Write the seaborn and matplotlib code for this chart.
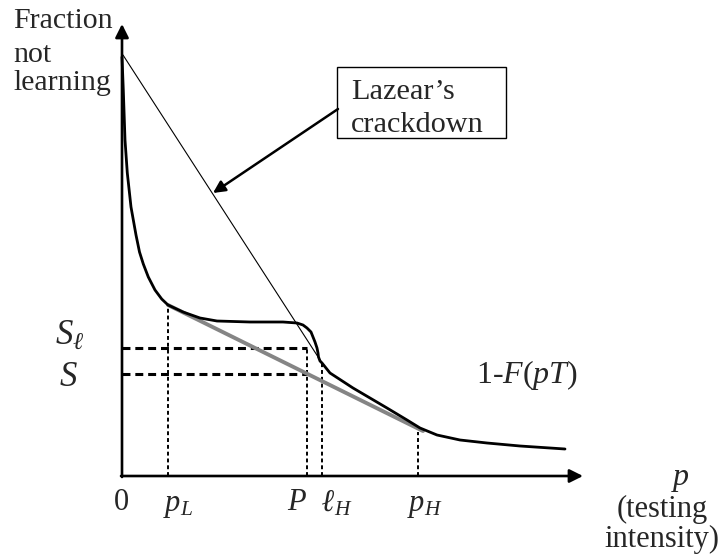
import matplotlib
matplotlib.use("Agg")
import matplotlib.pyplot as plt
from matplotlib.patches import Rectangle
import seaborn as sns

# chart units: origin at the axes corner (p = 0, fraction = 0)
curve_p = [0, 1.3, 3, 5.3, 9, 14, 17.5, 21.3, 26.3, 33, 39.7, 46, 61, 78, 95,
           128, 161, 175, 181, 185, 189, 191, 193, 195, 196, 196.5, 198, 200,
           208, 231, 265, 285, 298, 315, 338, 365, 398, 443]
curve_frac = [419, 386, 336, 303, 269, 241, 224, 212, 199, 186, 177, 171, 164,
              158, 155, 154, 154, 153, 151, 148, 144, 139, 134, 128, 123, 119,
              115, 113, 103, 88, 68, 56, 48, 41, 36, 33, 30, 27]

crackdown_p = [1, 200]
crackdown_frac = [421, 113]

tangent_p = [46, 301]
tangent_frac = [171, 45]

# marked testing intensities and the curve height above each
mark_names = ["p_L", "P", "l_H", "p_H"]
mark_p = [46, 185, 200, 296]
mark_top = [171, 128, 113, 44]

S_ell = 128
S = 102

sns.set_style("white")
plt.rcParams["font.family"] = ["Liberation Serif", "DejaVu Serif"]
plt.rcParams["mathtext.fontset"] = "custom"
plt.rcParams["mathtext.rm"] = "Liberation Serif"
plt.rcParams["mathtext.it"] = "Liberation Serif:italic"
plt.rcParams["mathtext.bf"] = "Liberation Serif:italic:bold"

fig = plt.figure(figsize=(7.25, 5.54), dpi=100)
ax = fig.add_axes([0, 0, 1, 1])
ax.set_xlim(-122, 603)
ax.set_ylim(-78, 476)
ax.axis("off")

# axes with arrow heads
arrow = dict(arrowstyle="-|>", lw=1.9, color="black", mutation_scale=20,
             shrinkA=0, shrinkB=0)
ax.annotate("", xy=(0, 452), xytext=(0, -1), arrowprops=arrow)
ax.annotate("", xy=(461, 0), xytext=(-1, 0), arrowprops=arrow)

# dashed guides
ax.plot([0, mark_p[1]], [S_ell, S_ell], color="black", lw=2.2,
        linestyle=(0, (2.6, 1.6)))
ax.plot([0, mark_p[1]], [S, S], color="black", lw=2.2,
        linestyle=(0, (2.6, 1.6)))
for xp, top in zip(mark_p, mark_top):
    ax.plot([xp, xp], [0, top], color="black", lw=1.4,
            linestyle=(0, (2.0, 1.5)))

# thin crackdown line, grey tangent, main curve
sns.lineplot(x=crackdown_p, y=crackdown_frac, ax=ax, color="black", lw=0.8,
             estimator=None, sort=False)
sns.lineplot(x=tangent_p, y=tangent_frac, ax=ax, color="#858585", lw=2.8,
             estimator=None, sort=False)
sns.lineplot(x=curve_p, y=curve_frac, ax=ax, color="black", lw=2.0,
             estimator=None, sort=False)

# callout box
ax.add_patch(Rectangle((215, 338), 169, 71, fill=False, lw=1.0,
                       edgecolor="black"))
ax.text(229, 377, "Lazear\u2019s", fontsize=21.8, ha="left", va="baseline")
ax.text(229, 344, "crackdown", fontsize=21.8, ha="left", va="baseline")
ax.annotate("", xy=(91, 283), xytext=(216, 367),
            arrowprops=dict(arrowstyle="-|>", lw=1.8, color="black",
                            mutation_scale=18, shrinkA=0, shrinkB=0))

# labels
ax.text(-109, 448, "Fraction", fontsize=21.5, ha="left", va="baseline")
ax.text(-109, 414, "not", fontsize=21.5, ha="left", va="baseline")
ax.text(-109, 386, "learning", fontsize=21.5, ha="left", va="baseline")
ax.text(-1, -27, "0", fontsize=22, ha="center", va="center")
ax.text(56, -29, r"$p_L$", fontsize=22, ha="center", va="center")
ax.text(175, -27, r"$P$", fontsize=22, ha="center", va="center")
ax.text(215, -28, r"$\mathbf{\ell}_H$", fontsize=22, ha="center", va="center")
ax.text(303, -29, r"$p_H$", fontsize=22, ha="center", va="center")
ax.text(-52, 141, r"$S_\ell$", fontsize=25, ha="center", va="center")
ax.text(-54, 99, r"$S$", fontsize=25, ha="center", va="center")
ax.text(405, 101, r"1-$F$($pT$)", fontsize=23, ha="center", va="center")
ax.text(558, -4, r"$p$", fontsize=23, ha="center", va="center")
ax.text(540, -33, "(testing", fontsize=22, ha="center", va="center")
ax.text(540, -63, "intensity)", fontsize=22, ha="center", va="center")

fig.savefig("out.png", dpi=100)
